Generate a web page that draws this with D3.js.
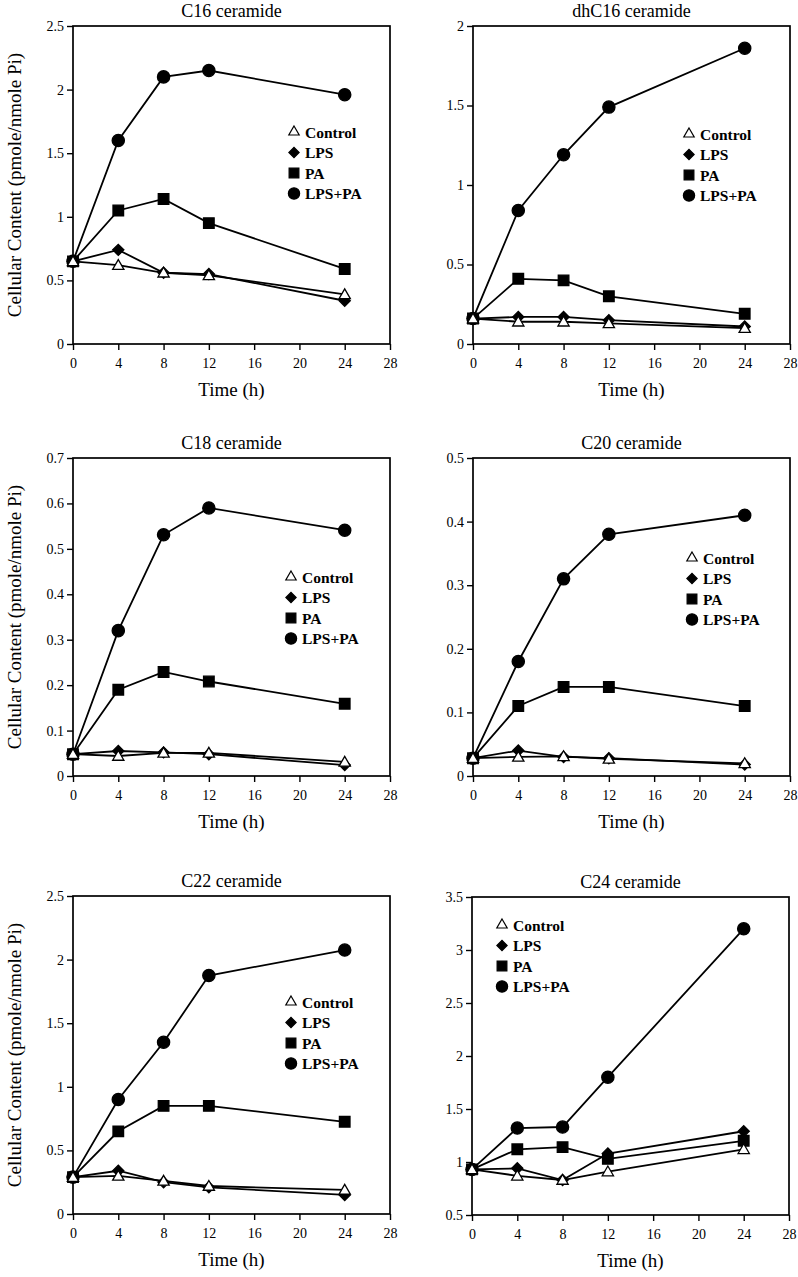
<!DOCTYPE html>
<html lang="en">
<head>
  <meta charset="utf-8">
  <title>Ceramide time course</title>
  <script src="https://d3js.org/d3.v7.min.js"></script>
  <style>
    body { margin: 0; background: #fff; }
  </style>
</head>
<body>
<svg width="798" height="1277"></svg>
<script>
  var hours = [0, 4, 8, 12, 24];
  var seriesNames = ["Control", "LPS", "PA", "LPS+PA"];
  var xTicks = [0, 4, 8, 12, 16, 20, 24, 28];

  // values per panel, in the order of seriesNames
  var c16 = [
    [0.65, 0.62, 0.56, 0.54, 0.39],
    [0.65, 0.74, 0.56, 0.55, 0.34],
    [0.65, 1.05, 1.14, 0.95, 0.59],
    [0.65, 1.60, 2.10, 2.15, 1.96]
  ];
  var dhc16 = [
    [0.16, 0.14, 0.14, 0.13, 0.10],
    [0.16, 0.17, 0.17, 0.15, 0.11],
    [0.16, 0.41, 0.40, 0.30, 0.19],
    [0.16, 0.84, 1.19, 1.49, 1.86]
  ];
  var c18 = [
    [0.048, 0.044, 0.051, 0.051, 0.031],
    [0.048, 0.055, 0.052, 0.048, 0.024],
    [0.048, 0.190, 0.229, 0.208, 0.159],
    [0.048, 0.320, 0.531, 0.590, 0.541]
  ];
  var c20 = [
    [0.028, 0.030, 0.031, 0.027, 0.020],
    [0.028, 0.040, 0.030, 0.028, 0.018],
    [0.028, 0.110, 0.140, 0.140, 0.110],
    [0.028, 0.180, 0.310, 0.380, 0.410]
  ];
  var c22 = [
    [0.29, 0.30, 0.26, 0.22, 0.19],
    [0.29, 0.34, 0.25, 0.21, 0.15],
    [0.29, 0.65, 0.85, 0.85, 0.725],
    [0.29, 0.90, 1.35, 1.875, 2.075]
  ];
  var c24 = [
    [0.93, 0.87, 0.83, 0.91, 1.12],
    [0.93, 0.94, 0.83, 1.08, 1.29],
    [0.93, 1.12, 1.14, 1.03, 1.20],
    [0.93, 1.32, 1.33, 1.80, 3.20]
  ];

  var panels = [
    {title: "C16 ceramide",   data: c16,   y: [0, 2.5, 0.5],  left: 73,  top: 26,  ylab: true,  lx: 221, ly: 106},
    {title: "dhC16 ceramide", data: dhc16, y: [0, 2, 0.5],    left: 473, top: 26,  ylab: false, lx: 216, ly: 108},
    {title: "C18 ceramide",   data: c18,   y: [0, 0.7, 0.1],  left: 73,  top: 458, ylab: true,  lx: 218, ly: 119},
    {title: "C20 ceramide",   data: c20,   y: [0, 0.5, 0.1],  left: 473, top: 458, ylab: false, lx: 219, ly: 100},
    {title: "C22 ceramide",   data: c22,   y: [0, 2.5, 0.5],  left: 73,  top: 896, ylab: true,  lx: 218, ly: 106},
    {title: "C24 ceramide",   data: c24,   y: [0.5, 3.5, 0.5], left: 472, top: 897, ylab: false, lx: 30,  ly: 28}
  ];

  var W = 317, H = 318;
  var FONT = "'Liberation Serif', 'Times New Roman', Times, serif";
  var svg = d3.select("svg");

  var symbols = {
    "Control": {type: d3.symbolTriangle, size: 55, fill: "#fff", rot: 0},
    "LPS": {type: d3.symbolSquare, size: 62, fill: "#000", rot: 45},
    "PA": {type: d3.symbolSquare, size: 112, fill: "#000", rot: 0},
    "LPS+PA": {type: d3.symbolCircle, size: 118, fill: "#000", rot: 0}
  };

  function fmt(v) { return String(+v.toFixed(2)); }

  function styleAxis(a) {
    a.attr("font-family", FONT).attr("font-size", 14);
    a.select(".domain").remove();
    a.selectAll("line").attr("stroke-width", 1.4);
    a.selectAll("text").attr("font-family", FONT).attr("font-size", 14).attr("fill", "#000");
  }

  panels.forEach(function(p) {
    var g = svg.append("g").attr("transform", "translate(" + p.left + "," + p.top + ")");

    var x = d3.scaleLinear().domain([0, 28]).range([0, W]);
    var y = d3.scaleLinear().domain([p.y[0], p.y[1]]).range([H, 0]);
    var yt = d3.range(p.y[0], p.y[1] + p.y[2] / 2, p.y[2]);

    g.append("g")
      .attr("transform", "translate(0," + H + ")")
      .call(d3.axisBottom(x).tickValues(xTicks).tickSize(6).tickSizeOuter(0).tickPadding(8))
      .call(styleAxis);

    g.append("g")
      .call(d3.axisLeft(y).tickValues(yt).tickFormat(fmt).tickSize(6).tickSizeOuter(0).tickPadding(3))
      .call(styleAxis);

    g.append("rect")
      .attr("width", W).attr("height", H)
      .attr("fill", "none").attr("stroke", "#000").attr("stroke-width", 1.7);

    g.append("text")
      .attr("x", W / 2).attr("y", -9)
      .attr("text-anchor", "middle")
      .attr("font-family", FONT).attr("font-size", 18)
      .text(p.title);

    g.append("text")
      .attr("x", W / 2).attr("y", H + 52)
      .attr("text-anchor", "middle")
      .attr("font-family", FONT).attr("font-size", 19)
      .text("Time (h)");

    if (p.ylab) {
      g.append("text")
        .attr("transform", "translate(" + (-p.left + 21) + "," + (H / 2) + ") rotate(-90)")
        .attr("text-anchor", "middle")
        .attr("font-family", FONT).attr("font-size", 19)
        .text("Cellular Content (pmole/nmole Pi)");
    }

    var line = d3.line().x(function(d, i) { return x(hours[i]); }).y(function(d) { return y(d); });

    // draw LPS+PA first so that Control ends on top
    for (var s = seriesNames.length - 1; s >= 0; s--) {
      var vals = p.data[s];
      var sym = symbols[seriesNames[s]];
      g.append("path")
        .attr("d", line(vals))
        .attr("fill", "none").attr("stroke", "#000").attr("stroke-width", 1.8);
      g.selectAll(null).data(vals).enter().append("path")
        .attr("transform", function(d, i) {
          var dy = sym.type === d3.symbolTriangle ? 1 : 0;
          return "translate(" + x(hours[i]) + "," + (y(d) + dy) + ") rotate(" + sym.rot + ")";
        })
        .attr("d", d3.symbol().type(sym.type).size(sym.size))
        .attr("fill", sym.fill).attr("stroke", "#000").attr("stroke-width", 1.3);
    }

    var leg = g.append("g").attr("transform", "translate(" + p.lx + "," + p.ly + ")");
    seriesNames.forEach(function(n, i) {
      var sym = symbols[n];
      leg.append("path")
        .attr("transform", "translate(0," + (i * 20.5) + ") rotate(" + sym.rot + ")")
        .attr("d", d3.symbol().type(sym.type).size(sym.size * 0.85))
        .attr("fill", sym.fill).attr("stroke", "#000").attr("stroke-width", 1.2);
      leg.append("text")
        .attr("x", 11).attr("y", i * 20.5 + 5.5)
        .attr("font-family", FONT).attr("font-size", 15.5).attr("font-weight", "bold")
        .text(n);
    });
  });
</script>
</body>
</html>
